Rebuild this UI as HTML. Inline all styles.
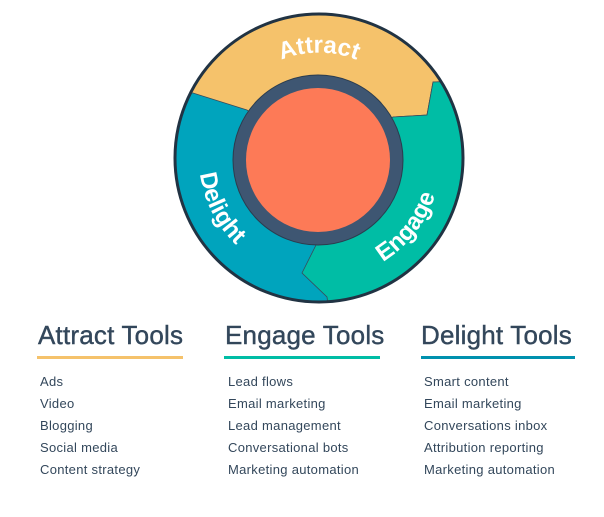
<!DOCTYPE html>
<html><head><style>
body{margin:0;width:604px;height:517px;background:#fff;position:relative;overflow:hidden;font-family:"Liberation Sans",sans-serif;color:#33475b}
.h{position:absolute;top:320px;font-size:26px;white-space:nowrap;letter-spacing:0.2px;-webkit-text-stroke:0.4px #33475b}
.u{position:absolute;top:356px;height:3px}
.l{position:absolute;font-size:13px;line-height:22px;white-space:nowrap;letter-spacing:0.3px}
</style></head><body>
<svg width="604" height="310" style="position:absolute;left:0;top:0">
<defs><clipPath id="c"><circle cx="319" cy="158" r="144"/></clipPath>
<path id="pa" d="M222,121 A103,103 0 0 1 416,121"/>
<path id="pe" d="M306.2,279.3 A122,122 0 0 0 433.6,116.3"/>
<path id="pd" d="M211.1,105.4 A120,120 0 0 0 298.2,276.2"/>
</defs>
<circle cx="319" cy="158" r="144" fill="#00a4bd"/>
<g clip-path="url(#c)">
<polygon fill="#f5c26b" stroke="#3a4a5a" stroke-width="0.8" points="150,0 490,0 490,80 433,82 427,115 393,117 319,158 247,110 193,93 150,93"/>
<polygon fill="#00bda5" stroke="#3a4a5a" stroke-width="0.8" points="319,158 393,117 427,115 433,82 490,80 490,320 330,320 327,297 302,273 317,243"/>
</g>
<circle cx="319" cy="158" r="144" fill="none" stroke="#213343" stroke-width="3"/>
<circle cx="318" cy="160" r="85" fill="#3e5672" stroke="#2b3c4e" stroke-width="1"/>
<circle cx="318" cy="160" r="72" fill="#fd7a57"/>
<g fill="#fff" font-size="24" font-weight="bold">
<text><textPath href="#pa" startOffset="50%" text-anchor="middle">Attract</textPath></text>
<text><textPath href="#pe" startOffset="50%" text-anchor="middle">Engage</textPath></text>
<text><textPath href="#pd" startOffset="50%" text-anchor="middle">Delight</textPath></text>
</g>
</svg>
<div class="h" style="left:38px">Attract Tools</div>
<div class="h" style="left:225px">Engage Tools</div>
<div class="h" style="left:421px">Delight Tools</div>
<div class="u" style="left:37px;width:146px;background:#f5c26b"></div>
<div class="u" style="left:224px;width:156px;background:#00bda5"></div>
<div class="u" style="left:421px;width:154px;background:#0091ae"></div>
<div class="l" style="left:40px;top:371px">Ads<br>Video<br>Blogging<br>Social media<br>Content strategy</div>
<div class="l" style="left:228px;top:371px">Lead flows<br>Email marketing<br>Lead management<br>Conversational bots<br>Marketing automation</div>
<div class="l" style="left:424px;top:371px">Smart content<br>Email marketing<br>Conversations inbox<br>Attribution reporting<br>Marketing automation</div>
</body></html>
